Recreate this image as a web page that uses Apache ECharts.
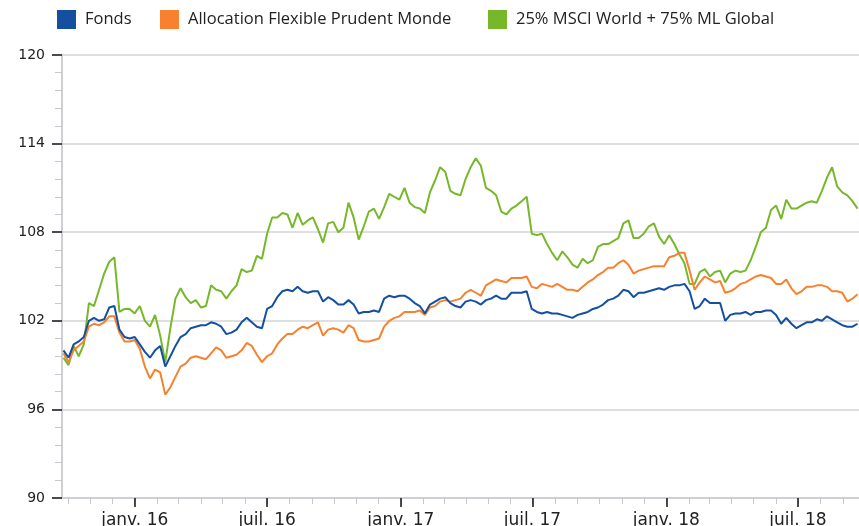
<!DOCTYPE html>
<html><head><meta charset="utf-8">
<script src="https://cdn.jsdelivr.net/npm/echarts@6/dist/echarts.min.js"></script>
<style>html,body{margin:0;padding:0;background:#fff}#c{width:859px;height:526px}</style>
</head><body><div id="c"></div>
<script>
// weekly observations, first date and step (days)
const startDate = '2015-09-25';
const stepDays = 7;
const seriesNames = ['Fonds', 'Allocation Flexible Prudent Monde', '25% MSCI World + 75% ML Global'];
const fonds = [100.0,99.5,100.4,100.6,100.9,102.0,102.2,102.0,102.1,102.9,103.0,101.4,100.9,100.8,100.9,100.4,99.9,99.5,100.0,100.3,98.9,99.6,100.3,100.9,101.1,101.5,101.6,101.7,101.7,101.9,101.8,101.6,101.1,101.2,101.4,101.9,102.2,101.9,101.6,101.5,102.8,103.0,103.6,104.0,104.1,104.0,104.3,104.0,103.9,104.0,104.0,103.3,103.6,103.4,103.1,103.1,103.4,103.1,102.5,102.6,102.6,102.7,102.6,103.5,103.7,103.6,103.7,103.7,103.5,103.2,103.0,102.5,103.1,103.3,103.5,103.6,103.2,103.0,102.9,103.3,103.4,103.3,103.1,103.4,103.5,103.7,103.5,103.5,103.9,103.9,103.9,104.0,102.8,102.6,102.5,102.6,102.5,102.5,102.4,102.3,102.2,102.4,102.5,102.6,102.8,102.9,103.1,103.4,103.5,103.7,104.1,104.0,103.6,103.9,103.9,104.0,104.1,104.2,104.1,104.3,104.4,104.4,104.5,104.0,102.8,103.0,103.5,103.2,103.2,103.2,102.0,102.4,102.5,102.5,102.6,102.4,102.6,102.6,102.7,102.7,102.4,101.8,102.2,101.8,101.5,101.7,101.9,101.9,102.1,102.0,102.3,102.1,101.9,101.7,101.6,101.6,101.8];
const allocation = [99.8,99.2,100.0,100.3,100.6,101.6,101.8,101.7,101.9,102.3,102.3,101.2,100.6,100.6,100.7,100.1,98.9,98.1,98.7,98.5,97.0,97.5,98.2,98.9,99.1,99.5,99.6,99.5,99.4,99.8,100.2,100.0,99.5,99.6,99.7,100.0,100.5,100.3,99.7,99.2,99.6,99.8,100.4,100.8,101.1,101.1,101.4,101.6,101.5,101.7,101.9,101.0,101.4,101.5,101.4,101.2,101.7,101.5,100.7,100.6,100.6,100.7,100.8,101.6,102.0,102.2,102.3,102.6,102.6,102.6,102.7,102.4,102.9,103.0,103.3,103.4,103.3,103.4,103.5,103.9,104.1,103.9,103.7,104.4,104.6,104.8,104.7,104.6,104.9,104.9,104.9,105.0,104.3,104.2,104.5,104.4,104.3,104.5,104.3,104.1,104.1,104.0,104.3,104.6,104.8,105.1,105.3,105.6,105.6,105.9,106.1,105.8,105.2,105.4,105.5,105.6,105.7,105.7,105.7,106.3,106.4,106.6,106.6,105.4,104.1,104.6,105.0,104.8,104.6,104.7,103.9,104.0,104.2,104.5,104.6,104.8,105.0,105.1,105.0,104.9,104.5,104.5,104.8,104.2,103.8,104.0,104.3,104.3,104.4,104.4,104.3,104.0,104.0,103.9,103.3,103.5,103.8];
const benchmark = [99.5,99.0,100.3,99.6,100.4,103.2,103.0,104.1,105.2,106.0,106.3,102.6,102.8,102.8,102.5,103.0,102.0,101.6,102.4,101.0,99.2,101.5,103.5,104.2,103.6,103.2,103.4,102.9,103.0,104.4,104.1,104.0,103.5,104.0,104.4,105.5,105.3,105.4,106.4,106.2,107.9,109.0,109.0,109.3,109.2,108.3,109.3,108.5,108.8,109.0,108.2,107.3,108.6,108.7,108.0,108.3,110.0,109.0,107.5,108.4,109.4,109.6,108.9,109.7,110.6,110.4,110.2,111.0,110.0,109.7,109.6,109.3,110.7,111.5,112.4,112.1,110.8,110.6,110.5,111.6,112.4,113.0,112.5,111.0,110.8,110.5,109.4,109.2,109.6,109.8,110.1,110.4,107.9,107.8,107.9,107.2,106.6,106.1,106.7,106.3,105.8,105.6,106.2,105.9,106.1,107.0,107.2,107.2,107.4,107.6,108.6,108.8,107.6,107.6,107.9,108.4,108.6,107.7,107.2,107.8,107.2,106.5,105.9,104.5,104.5,105.3,105.5,105.0,105.3,105.4,104.6,105.2,105.4,105.3,105.4,106.1,107.0,108.0,108.3,109.5,109.8,108.9,110.2,109.6,109.6,109.8,110.0,110.1,110.0,110.8,111.7,112.4,111.1,110.7,110.5,110.1,109.6];
const xMinDate = '2015-09-23';
const xMaxDate = '2018-09-23';
const monthTickDates = ['2015-10-01','2015-11-01','2015-12-01','2016-01-01','2016-02-01','2016-03-01','2016-04-01','2016-05-01','2016-06-01','2016-07-01','2016-08-01','2016-09-01','2016-10-01','2016-11-01','2016-12-01','2017-01-01','2017-02-01','2017-03-01','2017-04-01','2017-05-01','2017-06-01','2017-07-01','2017-08-01','2017-09-01','2017-10-01','2017-11-01','2017-12-01','2018-01-01','2018-02-01','2018-03-01','2018-04-01','2018-05-01','2018-06-01','2018-07-01','2018-08-01','2018-09-01'];
const labelTickDates = ['2016-01-01','2016-07-01','2017-01-01','2017-07-01','2018-01-01','2018-07-01'];
const labelTickTexts = ['janv. 16','juil. 16','janv. 17','juil. 17','janv. 18','juil. 18'];
const yMin = 90, yMax = 120, yStep = 6;
const colors = ['#1450a0', '#f7812e', '#77b82a'];

function ts(s){ const p = s.split('-').map(Number); return Date.UTC(p[0], p[1]-1, p[2]); }
const t0 = ts(startDate);
const dates = fonds.map((_, i) => t0 + i * stepDays * 86400000);
const pair = arr => arr.map((v, i) => [dates[i], v]);
const labelMap = {};
labelTickDates.forEach((d, i) => { labelMap[ts(d)] = labelTickTexts[i]; });

const chart = echarts.init(document.getElementById('c'), null, {renderer: 'canvas'});
const axisFont = 'DejaVu Sans';
const legendFont = 'Open Sans';
function legend(name, left){
  return {data: [name], left: left, top: 10, itemWidth: 19, itemHeight: 19, icon: 'rect',
    itemGap: 0, padding: 0,
    textStyle: {fontFamily: legendFont, fontSize: 16.5, color: '#222', padding: [0,0,0,4]}};
}
chart.setOption({
  animation: false,
  color: colors,
  legend: [legend(seriesNames[0], 57), legend(seriesNames[1], 160), legend(seriesNames[2], 488)],
  grid: {left: 62, right: 0, top: 55, bottom: 28, containLabel: false, outerBoundsMode: 'none'},
  xAxis: [{
    type: 'value', min: ts(xMinDate), max: ts(xMaxDate), scale: true,
    axisLine: {show: true, lineStyle: {color: '#cfd0d6', width: 2}},
    axisTick: {show: true, length: 6, customValues: monthTickDates.map(ts), lineStyle: {color: '#c8c8c8', width: 1}},
    axisLabel: {show: false, customValues: monthTickDates.map(ts)},
    splitLine: {show: false}
  }, {
    type: 'value', min: ts(xMinDate), max: ts(xMaxDate), scale: true, position: 'bottom',
    axisLine: {show: false},
    axisTick: {show: true, length: 9, customValues: labelTickDates.map(ts), lineStyle: {color: '#111', width: 1.5}},
    axisLabel: {show: true, customValues: labelTickDates.map(ts), margin: 14,
      fontFamily: axisFont, fontSize: 17, color: '#222',
      formatter: v => labelMap[v] || ''},
    splitLine: {show: false}
  }],
  yAxis: {
    type: 'value', min: yMin, max: yMax, interval: yStep,
    axisLine: {show: true, lineStyle: {color: '#cfd0d6', width: 2}},
    axisTick: {show: true, length: 10, lineStyle: {color: '#111', width: 1.5}},
    minorTick: {show: true, splitNumber: 5, length: 7, lineStyle: {color: '#c8c8c8', width: 1}},
    axisLabel: {margin: 17, fontFamily: axisFont, fontSize: 14, color: '#222'},
    splitLine: {show: true, lineStyle: {color: '#d4d4d4', width: 1.5}}
  },
  series: [
    {name: seriesNames[0], type: 'line', data: pair(fonds), showSymbol: false, z: 4, lineStyle: {width: 2}},
    {name: seriesNames[1], type: 'line', data: pair(allocation), showSymbol: false, z: 3, lineStyle: {width: 2}},
    {name: seriesNames[2], type: 'line', data: pair(benchmark), showSymbol: false, z: 2, lineStyle: {width: 2}}
  ]
});
</script></body></html>
